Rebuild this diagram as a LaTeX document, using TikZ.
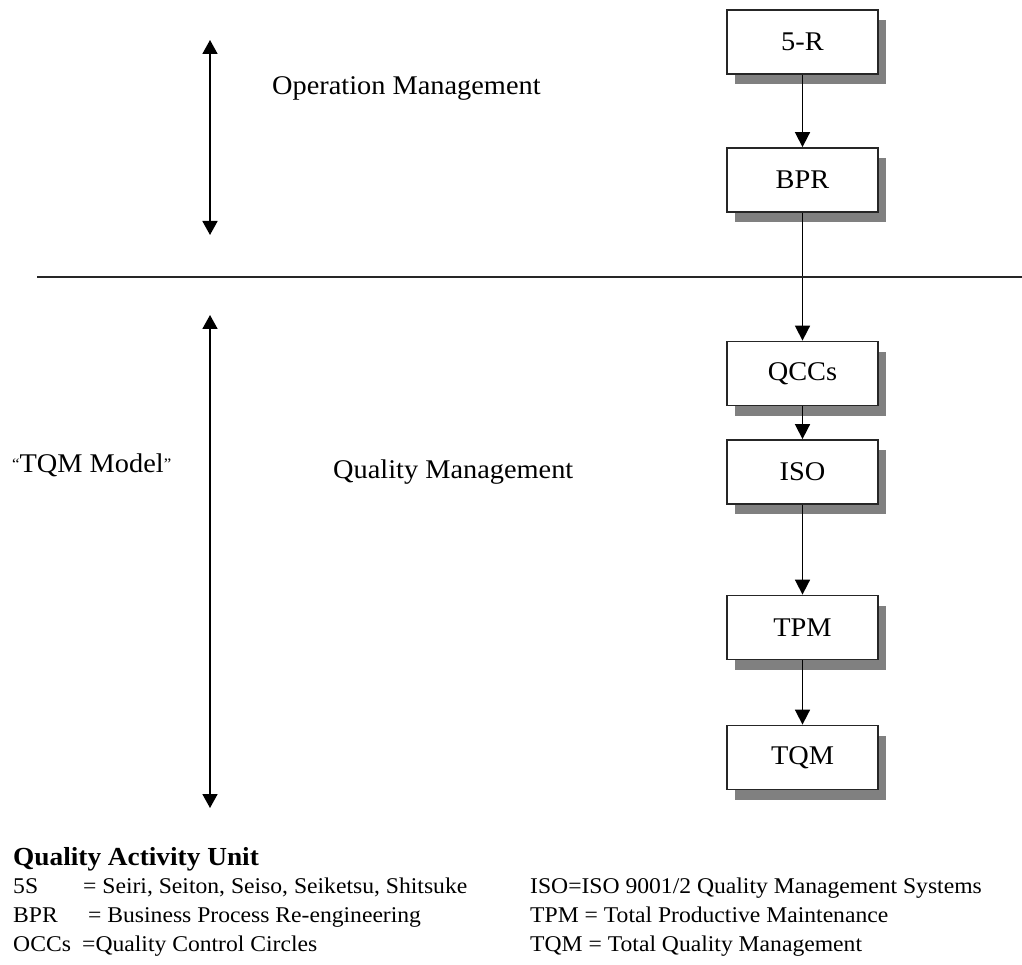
\documentclass[tikz,border=0pt]{standalone}
\usepackage{fontspec}
\setmainfont{Liberation Serif}[FakeStretch=1.05]
\usetikzlibrary{arrows.meta,shadows}
\tikzset{
  unitbox/.style={draw=black!85, line width=1.8pt, fill=white, minimum width=151pt, minimum height=64pt,
    inner sep=0pt, font=\fontsize{27}{30}\selectfont,
    drop shadow={shadow xshift=8pt, shadow yshift=-10pt, opacity=1, fill=gray}},
  flow/.style={line width=1.7pt, -{Triangle[width=15pt,length=15pt]}},
  span/.style={line width=1.7pt, {Triangle[width=15pt,length=14pt]}-{Triangle[width=15pt,length=14pt]}},
  label/.style={anchor=west, inner sep=0pt, font=\fontsize{27}{30}\selectfont},
  legend/.style={anchor=base west, inner sep=0pt, font=\fontsize{22.5}{26}\selectfont},
}
\begin{document}
\begin{tikzpicture}[x=1pt, y=-1pt]
\useasboundingbox[fill=white] (0,0) rectangle (1022,965);

% process chain
\node[unitbox] (r5)  at (802.5,42)    {5-R};
\node[unitbox] (bpr) at (802.5,180)   {BPR};
\node[unitbox] (qcc) at (802.5,373.5) {QCCs};
\node[unitbox] (iso) at (802.5,472)   {ISO};
\node[unitbox] (tpm) at (802.5,627.5) {TPM};
\node[unitbox] (tqm) at (802.5,757.5) {TQM};

\draw[flow] (r5) -- (bpr);
\draw[flow] (bpr) -- (qcc);
\draw[flow] (qcc) -- (iso);
\draw[flow] (iso) -- (tpm);
\draw[flow] (tpm) -- (tqm);

% divider between the two management levels
\coordinate (divL) at (37,277);
\coordinate (divR) at (1022,277);
\draw[line width=1.6pt, black!85] (divL) -- (divR);

% extent arrows
\coordinate (opTop) at (210,40);
\coordinate (opBot) at (210,235);
\coordinate (qmTop) at (210,315);
\coordinate (qmBot) at (210,808);
\draw[span] (opTop) -- (opBot);
\draw[span] (qmTop) -- (qmBot);

% level labels
\node[label] (opm) at (272,88) {Operation Management};
\node[label] (qm)  at (333,472) {Quality Management};
\node[label] (tqmm) at (12,465) {{\fontsize{16}{18}\selectfont\raisebox{3pt}{“}}TQM Model{\fontsize{16}{18}\selectfont\raisebox{3pt}{”}}};

% legend
\node[anchor=base west, inner sep=0pt, font=\fontsize{26}{30}\selectfont\bfseries] (qau) at (13,865) {Quality Activity Unit};
\node[legend] (k1) at (13,893) {5S};
\node[legend] (v1) at (83,893) {= Seiri, Seiton, Seiso, Seiketsu, Shitsuke};
\node[legend] (k2) at (13,922) {BPR};
\node[legend] (v2) at (88,922) {= Business Process Re-engineering};
\node[legend] (k3) at (13,951) {OCCs};
\node[legend] (v3) at (82,951) {=Quality Control Circles};
\node[legend] (k4) at (530,893) {ISO=ISO 9001/2 Quality Management Systems};
\node[legend] (k5) at (530,922) {TPM = Total Productive Maintenance};
\node[legend] (k6) at (530,951) {TQM = Total Quality Management};
\end{tikzpicture}
\end{document}
